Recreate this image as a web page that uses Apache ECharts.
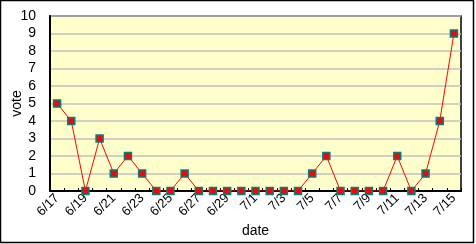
<!DOCTYPE html>
<html><head><meta charset="utf-8">
<script src="https://cdn.jsdelivr.net/npm/echarts@6/dist/echarts.min.js"></script>
<style>html,body{margin:0;padding:0;background:#fff}#c{width:476px;height:244px}</style>
</head><body><div id="c"></div>
<script>
const dates = ["6/17","6/18","6/19","6/20","6/21","6/22","6/23","6/24","6/25","6/26","6/27","6/28","6/29","6/30","7/1","7/2","7/3","7/4","7/5","7/6","7/7","7/8","7/9","7/10","7/11","7/12","7/13","7/14","7/15"];
const votes = [5,4,0,3,1,2,1,0,0,1,0,0,0,0,0,0,0,0,1,2,0,0,0,0,2,0,1,4,9];
const yTicks = {min:0, max:10, interval:1};

const chart = echarts.init(document.getElementById('c'), null, {renderer:'canvas'});
chart.setOption({
  animation:false,
  backgroundColor:'#fff',
  textStyle:{fontFamily:'Liberation Sans'},
  graphic:[{type:'rect', shape:{x:0.5,y:0.5,width:473,height:242}, style:{fill:null, stroke:'#000', lineWidth:1.5}, z:100}],
  grid:{left:50, top:16, width:411, height:175, containLabel:false, outerBoundsMode:'none', show:true, backgroundColor:'#FFFFCC', borderColor:'#000', borderWidth:1.5},
  xAxis:{
    type:'category', data:dates, boundaryGap:true,
    name:'date', nameLocation:'middle', nameGap:33, nameMoveOverlap:false,
    nameTextStyle:{color:'#000', fontSize:14, fontFamily:'Liberation Sans'},
    axisLine:{lineStyle:{color:'#000', width:2}},
    axisTick:{show:true, inside:true, length:3, interval:0, lineStyle:{color:'#000'}},
    axisLabel:{interval:1, rotate:45, color:'#000', fontSize:13, margin:5, fontFamily:'Liberation Sans'},
    splitLine:{show:false}
  },
  yAxis:{
    type:'value', min:yTicks.min, max:yTicks.max, interval:yTicks.interval,
    name:'vote', nameLocation:'middle', nameGap:26, nameMoveOverlap:false,
    nameTextStyle:{color:'#000', fontSize:14, fontFamily:'Liberation Sans'},
    axisLine:{show:true, lineStyle:{color:'#000', width:2}},
    axisTick:{show:false},
    axisLabel:{color:'#000', fontSize:14, margin:14, fontFamily:'Liberation Sans'},
    splitLine:{lineStyle:{color:'#C0C0C0', width:1.5}}
  },
  series:[{
    type:'line', data:votes,
    symbol:'rect', symbolSize:7, showAllSymbol:true,
    lineStyle:{color:'#FF0000', width:1},
    itemStyle:{color:'#FF0000', borderColor:'#008080', borderWidth:1.5}
  }]
});
</script></body></html>
